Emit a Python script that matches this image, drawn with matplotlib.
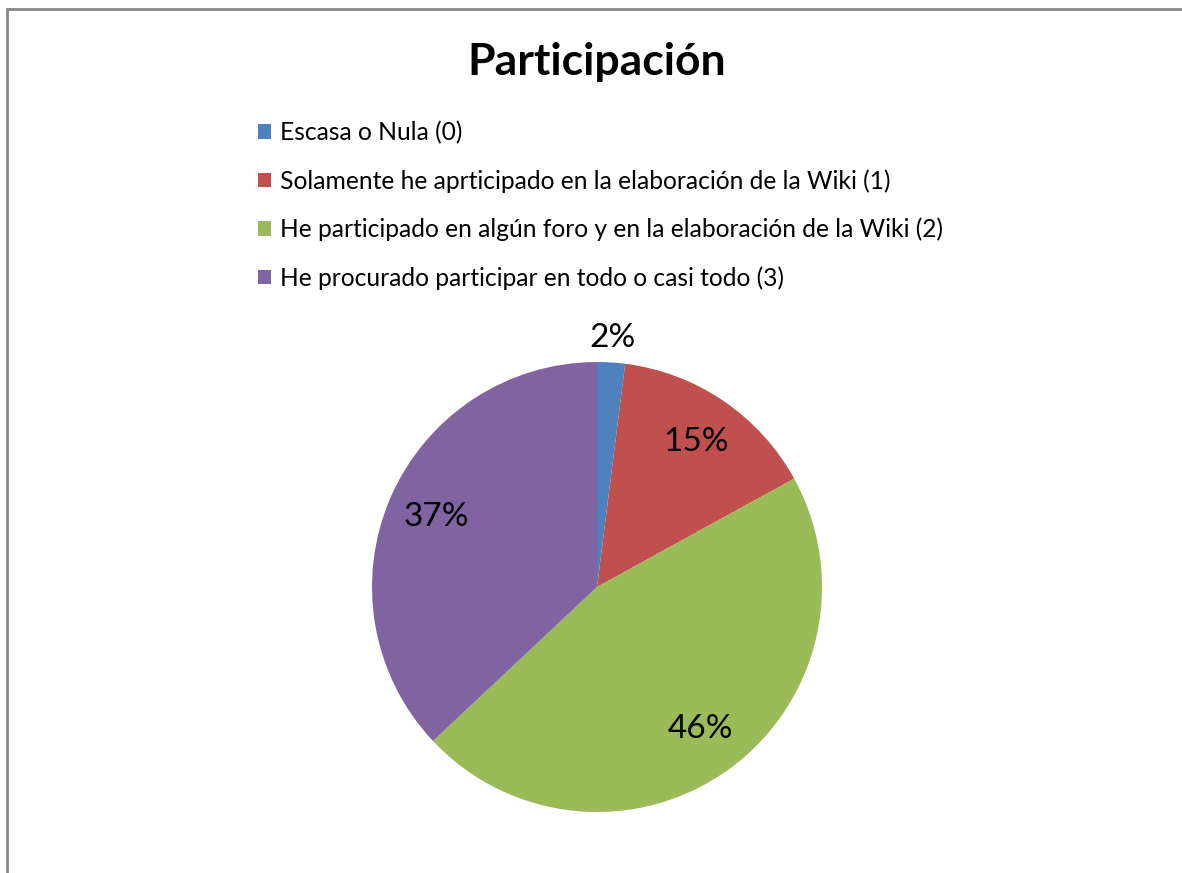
import matplotlib
matplotlib.use("Agg")
import matplotlib.pyplot as plt
import numpy as np
from matplotlib.patches import Rectangle

# Data
categorias = [
    "Escasa o Nula (0)",
    "Solamente he aprticipado en la elaboración de la Wiki (1)",
    "He participado en algún foro y en la elaboración de la Wiki (2)",
    "He procurado participar en todo o casi todo (3)",
]
porcentajes = [2, 15, 46, 37]
colores = ["#4F81BD", "#C0504D", "#9BBB59", "#8064A2"]

plt.rcParams["font.family"] = ["Lato", "DejaVu Sans"]

W, H = 1182, 873
fig = plt.figure(figsize=(W / 100, H / 100), dpi=100)

# grey frame of the chart area (runs off the right and bottom edges)
fig.patches.append(Rectangle((7 / W, -0.1), 1.2, (H - 9) / H + 0.1, transform=fig.transFigure,
                             fill=False, edgecolor="#888888", linewidth=2))

# pie axes: centre (597, 587) px, radius 225 px
cx, cy, r = 597, 587, 225
ax = fig.add_axes([(cx - r) / W, (H - cy - r) / H, 2 * r / W, 2 * r / H])
wedges, texts, autotexts = ax.pie(porcentajes, colors=colores, startangle=90, counterclock=False,
                                  autopct="%d%%", pctdistance=0.78,
                                  textprops={"fontsize": 24, "color": "black"},
                                  wedgeprops={"linewidth": 0})
ax.set_xlim(-1, 1)
ax.set_ylim(-1, 1)
ax.set_aspect("equal")

# small slice label sits outside the pie
w = wedges[0]
ang = np.deg2rad((w.theta1 + w.theta2) / 2)
autotexts[0].set_position((1.11 * np.cos(ang), 1.11 * np.sin(ang)))

fig.text(597 / W, 1 - 62 / H, "Participación", ha="center", va="center",
         fontsize=32, fontweight="bold")

fig.legend(wedges, categorias, loc="upper left", bbox_to_anchor=(258 / W, 1 - 121 / H),
           frameon=False, fontsize=17.7, handlelength=0.53, handleheight=0.53,
           handletextpad=0.37, labelspacing=1.01, borderpad=0, borderaxespad=0)

fig.savefig("out.png", dpi=100)
